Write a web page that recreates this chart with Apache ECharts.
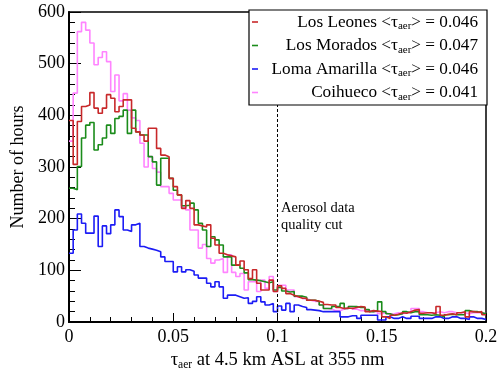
<!DOCTYPE html>
<html>
<head>
<meta charset="utf-8">
<script src="https://cdn.jsdelivr.net/npm/echarts@6/dist/echarts.min.js"></script>
<style>
html,body{margin:0;padding:0;background:#fff;}
#chart{width:499px;height:372px;}
</style>
</head>
<body>
<div id="chart"></div>
<script>
// ---- data ----
const binWidth = 0.002;   // bin width in tau_aer
const xTicks = [0, 0.05, 0.1, 0.15, 0.2];
const seriesNames = ['Los Leones', 'Los Morados', 'Loma Amarilla', 'Coihueco'];
const seriesMeans = ['0.046', '0.047', '0.046', '0.041'];
const seriesColors = ['#c8282a', '#1b8c1b', '#1c1cf5', '#ff84ff'];

const losLeones = [
  390, 305, 388, 417, 420, 444, 414, 404, 414, 440,
  433, 407, 417, 430, 430, 375, 368, 362, 350, 375,
  375, 336, 323, 320, 278, 262, 246, 220, 235, 220,
  188, 186, 184, 188, 162, 149, 133, 130, 128, 126,
  110, 118, 101, 84, 101, 75, 62, 62, 81, 59,
  70, 65, 55, 52, 49, 46, 46, 42, 42, 40,
  38, 34, 33, 33, 28, 26, 27, 26, 28, 30,
  29, 20, 22, 21, 20, 10, 7, 13, 15, 18,
  17, 20, 23, 24, 17, 18, 18, 16, 30, 13,
  15, 16, 14, 18, 20, 10, 20, 19, 20, 14
];
const losMorados = [
  259, 256, 301, 356, 381, 386, 333, 343, 356, 381,
  365, 394, 398, 410, 365, 410, 368, 362, 362, 320,
  310, 265, 317, 317, 278, 255, 246, 225, 226, 230,
  217, 191, 178, 146, 165, 159, 149, 126, 126, 110,
  110, 104, 95, 82, 81, 80, 78, 76, 78, 62,
  67, 60, 58, 59, 50, 50, 48, 42, 42, 40,
  33, 26, 26, 30, 30, 36, 26, 30, 30, 28,
  28, 24, 20, 22, 39, 20, 16, 13, 14, 16,
  20, 18, 20, 20, 14, 14, 13, 14, 13, 10,
  14, 15, 14, 14, 14, 22, 20, 20, 18, 16
];
const lomaAmarilla = [
  133, 178, 209, 191, 172, 172, 205, 146, 186, 171,
  188, 217, 204, 178, 175, 188, 191, 146, 143, 141,
  139, 136, 126, 117, 117, 97, 107, 97, 101, 98,
  91, 85, 85, 75, 68, 78, 68, 46, 52, 52,
  49, 46, 47, 36, 40, 49, 39, 33, 36, 20,
  31, 23, 36, 20, 33, 30, 28, 24, 23, 22,
  20, 20, 20, 20, 20, 10, 10, 12, 12, 7,
  13, 13, 13, 13, 4, 4, 10, 7, 7, 10,
  7, 7, 11, 11, 7, 7, 7, 10, 10, 7,
  7, 10, 10, 7, 7, 5, 10, 7, 7, 5
];
const coihueco = [
  350, 443, 562, 580, 565, 540, 498, 512, 523, 504,
  446, 478, 428, 442, 410, 395, 390, 346, 300, 320,
  297, 290, 262, 262, 249, 236, 236, 222, 217, 178,
  178, 143, 150, 123, 114, 120, 123, 96, 130, 96,
  88, 94, 62, 78, 78, 59, 81, 65, 88, 59,
  71, 71, 62, 62, 49, 49, 45, 42, 40, 40,
  33, 26, 25, 22, 22, 25, 26, 30, 25, 22,
  22, 22, 20, 20, 16, 18, 15, 16, 18, 16,
  18, 18, 26, 26, 20, 18, 18, 18, 20, 18,
  20, 20, 18, 18, 18, 16, 18, 18, 18, 16
];
const cutValue = 0.1;
const cutText = ['Aerosol data', 'quality cut'];

// ---- chart ----
const FONT = '"Liberation Serif", "DejaVu Serif", serif';
const allSeries = [losLeones, losMorados, lomaAmarilla, coihueco];

function toSteps(vals) {
  const pts = vals.map((v, i) => [+(i * binWidth).toFixed(4), v]);
  pts.push([+(vals.length * binWidth).toFixed(4), vals[vals.length - 1]]);
  return pts;
}

const chart = echarts.init(document.getElementById('chart'), null, {renderer: 'canvas'});

const drawOrder = [3, 2, 1, 0];
const series = drawOrder.map((idx, k) => ({
  name: seriesNames[idx],
  type: 'line',
  step: 'end',
  data: toSteps(allSeries[idx]),
  showSymbol: false,
  symbol: 'none',
  z: 2 + k,
  lineStyle: {color: seriesColors[idx], width: 1.6},
  itemStyle: {color: seriesColors[idx]},
  animation: false,
  markLine: idx === 0 ? {
    silent: true,
    symbol: 'none',
    label: {show: false},
    lineStyle: {color: '#000', type: [3, 2], width: 1},
    data: [{xAxis: cutValue}]
  } : undefined
}));

// legend drawn as graphic (right-aligned text like the reference)
const legX0 = 249, legX1 = 487, legY0 = 10, legY1 = 105;
const rowY = [22, 45.5, 69, 92.5];
const legendGraphics = [{
  type: 'rect', z: 100,
  shape: {x: legX0, y: legY0, width: legX1 - legX0, height: legY1 - legY0},
  style: {fill: '#fff', stroke: '#000', lineWidth: 1.2}
}];
seriesNames.forEach((n, i) => {
  legendGraphics.push({
    type: 'line', z: 101,
    shape: {x1: legX0 + 3, y1: rowY[i], x2: legX0 + 9, y2: rowY[i]},
    style: {stroke: seriesColors[i], lineWidth: 1.6}
  });
  legendGraphics.push({
    type: 'text', z: 101,
    x: 478, y: rowY[i],
    style: {
      text: '{t|' + n + ' <τ}{s|aer}{t|> = ' + seriesMeans[i] + '}',
      align: 'right', verticalAlign: 'middle',
      rich: {
        t: {fontFamily: FONT, fontSize: 17.2, fill: '#000', lineHeight: 20, verticalAlign: 'middle'},
        s: {fontFamily: FONT, fontSize: 11, fill: '#000', lineHeight: 11, verticalAlign: 'bottom'}
      }
    }
  });
});
legendGraphics.push({
  type: 'text', z: 50, x: 281, y: 208,
  style: {text: cutText[0], font: '14.5px ' + FONT, fill: '#000', verticalAlign: 'middle'}
});
legendGraphics.push({
  type: 'text', z: 50, x: 281, y: 225,
  style: {text: cutText[1], font: '14.5px ' + FONT, fill: '#000', verticalAlign: 'middle'}
});

chart.setOption({
  backgroundColor: '#fff',
  animation: false,
  grid: {left: 69, right: 13, top: 12, bottom: 50, containLabel: false, outerBoundsMode: 'none',
    show: true, borderColor: '#000', borderWidth: 1.5, backgroundColor: 'transparent'},
  xAxis: {
    type: 'value', min: xTicks[0], max: xTicks[xTicks.length - 1], interval: 0.05,
    name: '{t|τ}{s|aer}{t| at 4.5 km ASL at 355 nm}',
    nameLocation: 'middle', nameGap: 26,
    nameTextStyle: {
      rich: {
        t: {fontFamily: FONT, fontSize: 18.5, color: '#000', lineHeight: 22, verticalAlign: 'middle'},
        s: {fontFamily: FONT, fontSize: 11.5, color: '#000', lineHeight: 12, verticalAlign: 'bottom'}
      }
    },
    axisLine: {show: true, onZero: false, lineStyle: {color: '#000', width: 2}},
    axisTick: {show: true, inside: true, length: 9, lineStyle: {color: '#000', width: 1}},
    minorTick: {show: true, splitNumber: 5, length: 5, lineStyle: {color: '#000', width: 1}},
    splitLine: {show: false},
    axisLabel: {fontFamily: FONT, fontSize: 18, color: '#000', margin: 6,
      formatter: v => String(+v.toFixed(3))}
  },
  yAxis: {
    type: 'value', min: 0, max: 600, interval: 100,
    name: 'Number of hours', nameLocation: 'middle', nameGap: 25,
    nameTextStyle: {fontFamily: FONT, fontSize: 18, color: '#000'},
    axisLine: {show: true, lineStyle: {color: '#000', width: 2}},
    axisTick: {show: true, inside: true, length: 12, lineStyle: {color: '#000', width: 1}},
    minorTick: {show: true, splitNumber: 5, length: 6, lineStyle: {color: '#000', width: 1}},
    splitLine: {show: false},
    axisLabel: {fontFamily: FONT, fontSize: 18, color: '#000', margin: 4}
  },
  series: series,
  graphic: legendGraphics
});
</script>
</body>
</html>
